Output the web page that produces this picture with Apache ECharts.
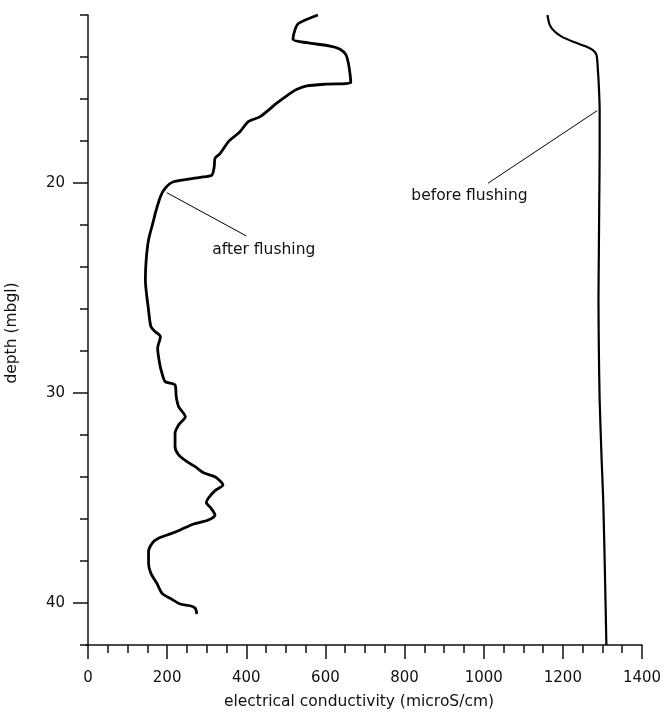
<!DOCTYPE html>
<html>
<head>
<meta charset="utf-8">
<script src="https://cdn.jsdelivr.net/npm/echarts@6/dist/echarts.min.js"></script>
<style>
  html, body { margin: 0; padding: 0; background: #fff; }
  #chart { width: 665px; height: 713px; }
</style>
</head>
<body>
<div id="chart"></div>
<script>
// Conductivity log after flushing: depth (mbgl) and EC (microS/cm)
const afterDepth = [
  12.00, 12.40, 12.71, 13.16, 13.32, 13.48, 13.63, 13.90, 14.30, 14.78,
  15.22, 15.29, 15.38, 15.54, 15.73, 16.20, 16.84, 17.08, 17.56, 18.03,
  18.59, 18.82, 19.22, 19.62, 19.73, 19.94, 20.25, 20.65, 21.44, 21.76,
  22.71, 23.67, 24.62, 26.05, 26.84, 27.08, 27.32, 27.87, 28.59, 29.06,
  29.46, 29.62, 30.18, 30.65, 31.13, 31.52, 31.92, 32.56, 32.95, 33.27,
  33.51, 33.80, 33.99, 34.38, 34.65, 35.01, 35.22, 35.49, 35.81, 36.05,
  36.24, 36.52, 36.71, 36.92, 37.16, 37.56, 38.11, 38.59, 39.06, 39.54,
  39.78, 40.05, 40.13, 40.25, 40.52
];
const afterCond = [
  581, 532, 523, 518, 553, 612, 637, 652, 658, 662,
  664, 603, 553, 528, 511, 477, 435, 405, 384, 355,
  334, 321, 319, 313, 284, 216, 195, 183, 170, 166,
  153, 147, 145, 153, 159, 170, 183, 176, 181, 187,
  195, 220, 223, 229, 246, 229, 220, 220, 229, 250,
  271, 292, 321, 341, 321, 304, 299, 311, 321, 304,
  267, 233, 208, 178, 162, 153, 153, 159, 174, 187,
  208, 233, 258, 271, 275
];

// Conductivity log before flushing
const beforeDepth = [
  12.00, 12.48, 12.80, 13.03, 13.27, 13.51, 13.67, 13.90, 14.46, 15.41,
  16.52, 18.43, 20.81, 23.20, 25.57, 28.00, 30.33, 33.19, 35.10, 38.27,
  42.00
];
const beforeCond = [
  1161, 1167, 1180, 1197, 1226, 1260, 1276, 1285, 1288, 1291,
  1293, 1293, 1292, 1291, 1290, 1291, 1293, 1298, 1302, 1306,
  1310
];

// Axis ranges and labelled ticks
const condRange = [0, 1400];
const condStep = 200;
const depthRange = [12, 42];
const depthMinorStep = 2;
const depthLabels = [20, 30, 40];

// Leader-line annotations, anchored in data space [cond, depth]
const annotations = [
  { text: 'after flushing',  from: [199, 20.46], to: [400, 22.52], textAt: [314, 23.17] },
  { text: 'before flushing', from: [1287, 16.55], to: [1011, 20.01], textAt: [817, 20.64] }
];

const FONT = 'DejaVu Sans';
const INK = '#111';

const toPairs = (xs, ys) => xs.map((x, i) => [x, ys[i]]);

const chart = echarts.init(document.getElementById('chart'), null, { renderer: 'canvas' });

const axisLine = { show: true, lineStyle: { color: INK, width: 1.5 } };

const option = {
  animation: false,
  backgroundColor: '#fff',
  grid: { left: 88, right: 23, top: 15, bottom: 68 },
  xAxis: {
    type: 'value',
    min: condRange[0],
    max: condRange[1],
    interval: condStep,
    axisLine: axisLine,
    axisTick: { show: true, length: 14, lineStyle: { color: INK, width: 1.5 } },
    minorTick: { show: true, splitNumber: 4, length: 8, lineStyle: { color: INK, width: 1.5 } },
    axisLabel: { margin: 26, color: INK, fontFamily: FONT, fontSize: 15, formatter: v => String(v) },
    splitLine: { show: false },
    minorSplitLine: { show: false }
  },
  yAxis: [
    {
      type: 'value',
      inverse: true,
      min: depthRange[0],
      max: depthRange[1],
      interval: depthMinorStep,
      offset: 2,
      axisLine: axisLine,
      axisTick: { show: true, length: 8, lineStyle: { color: INK, width: 1.5 } },
      axisLabel: { show: false },
      splitLine: { show: false }
    },
    {
      type: 'value',
      inverse: true,
      min: depthRange[0],
      max: depthRange[1],
      position: 'left',
      offset: 2,
      axisLine: { show: false },
      axisTick: { show: true, length: 13, customValues: depthLabels, lineStyle: { color: INK, width: 1.5 } },
      axisLabel: { show: true, customValues: depthLabels, margin: 21, color: INK, fontFamily: FONT, fontSize: 15 },
      splitLine: { show: false }
    }
  ],
  series: [
    {
      name: 'after flushing',
      type: 'line',
      yAxisIndex: 0,
      data: toPairs(afterCond, afterDepth),
      showSymbol: false,
      smooth: 0.25,
      lineStyle: { color: '#000', width: 2.8 }
    },
    {
      name: 'before flushing',
      type: 'line',
      yAxisIndex: 0,
      data: toPairs(beforeCond, beforeDepth),
      showSymbol: false,
      smooth: 0.25,
      lineStyle: { color: '#000', width: 2.2 }
    }
  ],
  graphic: [
    {
      type: 'text',
      x: 359, y: 702,
      style: { text: 'electrical conductivity (microS/cm)', fill: INK, font: '15.5px "DejaVu Sans"', align: 'center', verticalAlign: 'middle' }
    },
    {
      type: 'text',
      x: 12, y: 333, rotation: Math.PI / 2,
      style: { text: 'depth (mbgl)', fill: INK, font: '15.5px "DejaVu Sans"', align: 'center', verticalAlign: 'middle' }
    },
    {
      // short extension so the bottom axis meets the offset depth axis
      type: 'line',
      shape: { x1: 85.5, y1: 645, x2: 88, y2: 645 },
      style: { stroke: INK, lineWidth: 1.5 }
    }
  ]
};

chart.setOption(option);

// Leader lines and their labels, placed through the axes' own scales
const notes = [];
annotations.forEach(a => {
  const p1 = chart.convertToPixel({ xAxisIndex: 0, yAxisIndex: 0 }, a.from);
  const p2 = chart.convertToPixel({ xAxisIndex: 0, yAxisIndex: 0 }, a.to);
  const pt = chart.convertToPixel({ xAxisIndex: 0, yAxisIndex: 0 }, a.textAt);
  notes.push({
    type: 'line',
    shape: { x1: p1[0], y1: p1[1], x2: p2[0], y2: p2[1] },
    style: { stroke: '#000', lineWidth: 1 }
  });
  notes.push({
    type: 'text',
    x: pt[0], y: pt[1],
    style: { text: a.text, fill: INK, font: '15.5px "DejaVu Sans"', align: 'left', verticalAlign: 'middle' }
  });
});
chart.setOption({ graphic: option.graphic.concat(notes) });
</script>
</body>
</html>
